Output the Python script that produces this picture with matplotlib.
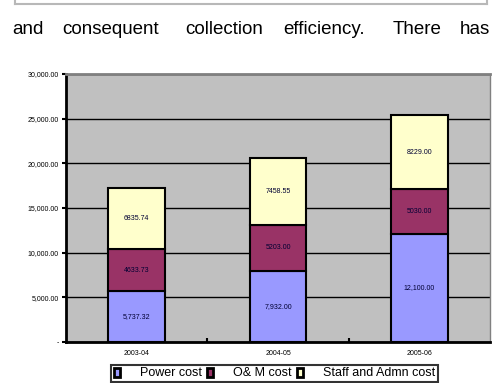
import matplotlib.pyplot as plt
import numpy as np

years = ["2003-04", "2004-05", "2005-06"]
power_cost = [5737.32, 7932.00, 12100.00]
om_cost = [4633.73, 5203.00, 5030.00]
staff_cost = [6835.74, 7458.55, 8229.00]

power_labels = ["5,737.32", "7,932.00", "12,100.00"]
om_labels = ["4633.73", "5203.00", "5030.00"]
staff_labels = ["6835.74", "7458.55", "8229.00"]

yticks = [0, 5000, 10000, 15000, 20000, 25000, 30000]
ytick_labels = ["-", "5,000.00", "10,000.00", "15,000.00", "20,000.00", "25,000.00", "30,000.00"]

sentence = ["and", "consequent", "collection", "efficiency.", "There", "has"]

plt.rcParams['font.family'] = ['Liberation Sans', 'DejaVu Sans']

W, H = 493, 383
fig = plt.figure(figsize=(W / 100, H / 100), dpi=100)

# page text above the chart (justified line, words placed one by one)
word_x = [12, 62, 185, 283, 393, 460]
for wx, w in zip(word_x, sentence):
    fig.text(wx / W, 1 - 30 / H, w, fontsize=13.5, va='center', ha='left')

# box border remnant at the top
fig.add_artist(plt.Line2D([15 / W, 487 / W], [1 - 4 / H, 1 - 4 / H], color='#b8b8b8', lw=1.5))
fig.add_artist(plt.Line2D([15 / W, 15 / W], [1 - 4 / H, 1.0], color='#b8b8b8', lw=1.5))
fig.add_artist(plt.Line2D([487 / W, 487 / W], [1 - 4 / H, 1.0], color='#b8b8b8', lw=1.5))

ax = fig.add_axes([66 / W, 1 - 342 / H, (490 - 66) / W, (342 - 74) / H])
ax.set_facecolor('#c0c0c0')

x = np.arange(len(years))
width = 0.4
b1 = ax.bar(x, power_cost, width, color='#9999ff', edgecolor='black', lw=1.5, zorder=3, label='Power cost')
b2 = ax.bar(x, om_cost, width, bottom=power_cost, color='#993366', edgecolor='black', lw=1.5, zorder=3, label='O& M cost')
bottom2 = np.array(power_cost) + np.array(om_cost)
b3 = ax.bar(x, staff_cost, width, bottom=bottom2, color='#ffffcc', edgecolor='black', lw=1.5, zorder=3, label='Staff and Admn cost')

for i in range(len(years)):
    ax.text(x[i], power_cost[i] / 2, power_labels[i], ha='center', va='center', fontsize=5, color='#000033', zorder=4)
    ax.text(x[i], power_cost[i] + om_cost[i] / 2, om_labels[i], ha='center', va='center', fontsize=5, color='#000033', zorder=4)
    ax.text(x[i], bottom2[i] + staff_cost[i] / 2, staff_labels[i], ha='center', va='center', fontsize=5, color='#000033', zorder=4)

ax.set_xlim(-0.5, 2.5)
ax.set_ylim(0, 30000)
ax.set_yticks(yticks)
ax.set_yticklabels(ytick_labels, fontsize=5)
ax.set_xticks(x)
ax.set_xticklabels(years, fontsize=5)
ax.set_xticks([0.5, 1.5], minor=True)
ax.tick_params(axis='x', which='major', length=0, pad=6)
ax.tick_params(axis='x', which='minor', length=3, width=1.5, direction='in')
ax.tick_params(axis='y', length=3, width=1.5, pad=2)
ax.grid(axis='y', color='black', lw=1, zorder=1)
ax.set_axisbelow(True)

ax.spines['left'].set_linewidth(2)
ax.spines['bottom'].set_linewidth(2)
ax.spines['top'].set_color('#808080')
ax.spines['top'].set_linewidth(2)
ax.spines['right'].set_color('#808080')
ax.spines['right'].set_linewidth(1)

leg = fig.legend(handles=[b1, b2, b3], loc='center', bbox_to_anchor=((111 + 438) / 2 / W, 1 - 373.5 / H),
                 ncol=3, fontsize=9, frameon=True, fancybox=False, edgecolor='black',
                 handlelength=0.5, handleheight=0.7, handletextpad=1.6, columnspacing=0.4,
                 borderpad=0.2, borderaxespad=0)
leg.get_frame().set_linewidth(1.5)
for h in leg.legend_handles:
    h.set_linewidth(2)

fig.savefig('out.png', dpi=100)
